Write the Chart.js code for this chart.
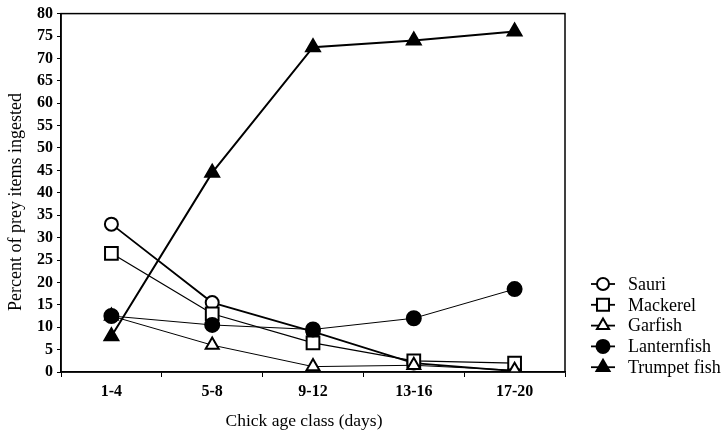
<!DOCTYPE html>
<html>
<head>
<meta charset="utf-8">
<script src="https://cdn.jsdelivr.net/npm/chart.js@4/dist/chart.umd.min.js"></script>
<style>
  html, body { margin: 0; padding: 0; background: #fff; }
  #wrap { width: 723px; height: 432px; }
</style>
</head>
<body>
<div id="wrap"><canvas id="myChart" width="723" height="432"></canvas></div>
<script>
var classes = ['1-4', '5-8', '9-12', '13-16', '17-20']
var sauri = [33, 15.5, 9, 2, 0.2]
var mackerel = [26.5, 13, 6.5, 2.5, 2]
var garfish = [12.5, 6, 1.2, 1.5, 0.4]
var lanternfish = [12.5, 10.5, 9.5, 12, 18.5]
var trumpet = [8, 44.5, 72.5, 74, 76]
var tituloX = 'Chick age class (days)'
var tituloY = 'Percent of prey items ingested'

const fonte = 'Liberation Serif, Times New Roman, serif'

const serie = (nome, valores, forma, cheio, raio, espessura) => ({
    label: nome,
    data: valores,
    borderColor: '#000',
    borderWidth: espessura,
    pointStyle: forma,
    pointRadius: raio,
    pointHoverRadius: raio,
    pointBackgroundColor: cheio ? '#000' : '#fff',
    pointBorderColor: '#000',
    pointBorderWidth: 2,
    tension: 0
})

const data = {
    labels: classes,
    datasets: [
        serie('Trumpet fish', trumpet, 'triangle', true, 8, 2),
        serie('Lanternfish', lanternfish, 'circle', true, 7, 1),
        serie('Garfish', garfish, 'triangle', false, 7.5, 1),
        serie('Mackerel', mackerel, 'rect', false, 9, 1.3),
        serie('Sauri', sauri, 'circle', false, 6.5, 1.8)
    ]
}

// moldura, titulos dos eixos e legenda desenhados a mao
const moldura = {
    id: 'moldura',
    afterDraw(chart) {
        const ctx = chart.ctx
        const a = chart.chartArea
        ctx.save()
        ctx.strokeStyle = '#000'
        ctx.lineWidth = 1.5
        ctx.strokeRect(a.left, a.top, a.right - a.left, a.bottom - a.top)

        ctx.fillStyle = '#000'
        ctx.textAlign = 'center'
        ctx.textBaseline = 'middle'
        ctx.font = '17.5px ' + fonte
        ctx.fillText(tituloX, 304, 421)
        ctx.save()
        ctx.translate(16, 202)
        ctx.rotate(-Math.PI / 2)
        ctx.font = '18px ' + fonte
        ctx.fillText(tituloY, 0, 0)
        ctx.restore()
        ctx.textAlign = 'left'

        const ordem = ['Sauri', 'Mackerel', 'Garfish', 'Lanternfish', 'Trumpet fish']
        let y = 284
        ordem.forEach(nome => {
            const ds = chart.data.datasets.find(d => d.label === nome)
            ctx.strokeStyle = '#000'
            ctx.lineWidth = 1.8
            ctx.beginPath()
            ctx.moveTo(591, y)
            ctx.lineTo(615, y)
            ctx.stroke()
            ctx.fillStyle = ds.pointBackgroundColor
            ctx.lineWidth = 2
            Chart.helpers.drawPoint(ctx, {
                pointStyle: ds.pointStyle,
                radius: ds.pointRadius - 0.5,
                borderWidth: 2
            }, 603, y)
            ctx.fillStyle = '#000'
            ctx.font = '18px ' + fonte
            ctx.textBaseline = 'middle'
            ctx.fillText(nome, 628, y + 1)
            y += 20.8
        })
        ctx.restore()
    }
}

const opcoes = {
    responsive: false,
    animation: false,
    layout: { padding: { left: 0, top: 13, right: 158, bottom: 0 } },
    plugins: { legend: { display: false }, tooltip: { enabled: false } },
    scales: {
        x: {
            offset: true,
            grid: { drawOnChartArea: false, drawTicks: true, tickLength: 5, color: '#000', offset: true },
            border: { color: '#000', width: 1.5 },
            ticks: { color: '#000', font: { family: fonte, size: 16, weight: 'bold' }, padding: 5 },
            afterFit: s => { s.height = 60 }
        },
        y: {
            min: 0,
            max: 80,
            ticks: { stepSize: 5, color: '#000', font: { family: fonte, size: 16, weight: 'bold' }, padding: 4 },
            grid: { drawOnChartArea: false, drawTicks: true, tickLength: 4, color: '#000' },
            border: { color: '#000', width: 1.5 },
            afterFit: s => { s.width = 61 }
        }
    }
}

const config = {
    type: 'line',
    data: data,
    options: opcoes,
    plugins: [moldura]
}

const grafico = new Chart(document.getElementById('myChart'), config)
</script>
</body>
</html>
